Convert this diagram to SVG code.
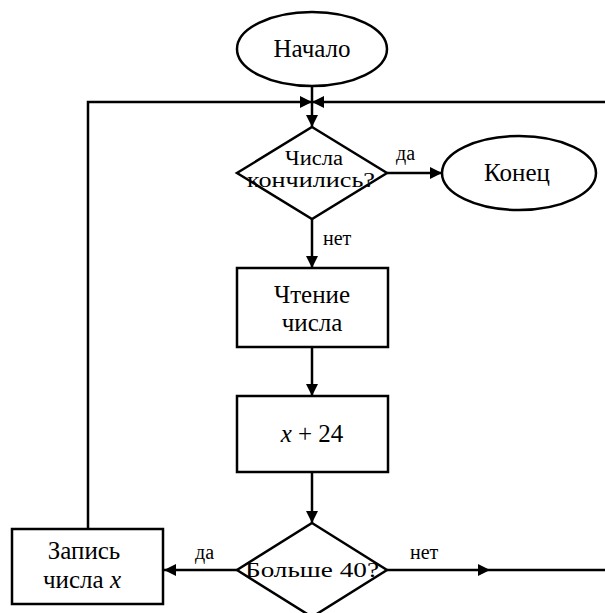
<svg xmlns="http://www.w3.org/2000/svg" width="605" height="613" viewBox="0 0 605 613">
<style>
.s{fill:#fff;stroke:#000;stroke-width:2.5}
.c{fill:none;stroke:#000;stroke-width:2.5}
text{font-family:"Liberation Serif","DejaVu Serif","Times New Roman",serif;fill:#000}
.t{font-size:25px;text-anchor:middle}
.d{font-size:20px;text-anchor:middle}
.l{font-size:20px}
</style>
<defs>
<marker id="a" markerUnits="userSpaceOnUse" markerWidth="14" markerHeight="12" refX="12" refY="6" orient="auto">
<path d="M0,0 L12,6 L0,12 Z" fill="#000"/>
</marker>
</defs>
<rect width="605" height="613" fill="#fff"/>
<g id="connectors">
<line class="c" x1="312" y1="86" x2="312" y2="102"/>
<path class="c" d="M88,529 V102 H312" marker-end="url(#a)"/>
<path class="c" d="M605,102 H312" marker-end="url(#a)"/>
<path class="c" d="M312,102 V127" marker-end="url(#a)"/>
<path class="c" d="M387,173 H442" marker-end="url(#a)"/>
<path class="c" d="M312,219 V268" marker-end="url(#a)"/>
<path class="c" d="M312,347 V396" marker-end="url(#a)"/>
<path class="c" d="M312,472 V523" marker-end="url(#a)"/>
<path class="c" d="M237,570 H164" marker-end="url(#a)"/>
<path class="c" d="M387,570 L490,570 L605,570" marker-mid="url(#a)"/>
<text class="l" x="396" y="160">да</text>
<text class="l" x="323" y="245">нет</text>
<text class="l" x="195" y="559">да</text>
<text class="l" x="410" y="559">нет</text>
</g>
<g id="start">
<ellipse class="s" cx="312" cy="49" rx="75" ry="37"/>
<text class="t" x="312" y="57">Начало</text>
</g>
<g id="check">
<polygon class="s" points="312,127 387,173 312,219 237,173"/>
<text class="d" x="314" y="165" textLength="58" lengthAdjust="spacingAndGlyphs">Числа</text>
<text class="d" x="311" y="187" textLength="128" lengthAdjust="spacingAndGlyphs">кончились?</text>
</g>
<g id="end">
<ellipse class="s" cx="519" cy="173" rx="77" ry="37"/>
<text class="t" x="517" y="181">Конец</text>
</g>
<g id="read">
<rect class="s" x="237" y="268" width="151" height="79"/>
<text class="t" x="312" y="303">Чтение</text>
<text class="t" x="312" y="331">числа</text>
</g>
<g id="add">
<rect class="s" x="237" y="396" width="151" height="76"/>
<text class="t" x="312" y="442"><tspan font-style="italic">x</tspan> + 24</text>
</g>
<g id="compare">
<polygon class="s" points="312,523 387,570 312,617 237,570"/>
<text class="d" x="312" y="577" textLength="134" lengthAdjust="spacingAndGlyphs">Больше 40?</text>
</g>
<g id="write">
<rect class="s" x="12" y="529" width="151" height="75"/>
<text class="t" x="84" y="559">Запись</text>
<text class="t" x="82" y="588">числа <tspan font-style="italic">x</tspan></text>
</g>
</svg>
